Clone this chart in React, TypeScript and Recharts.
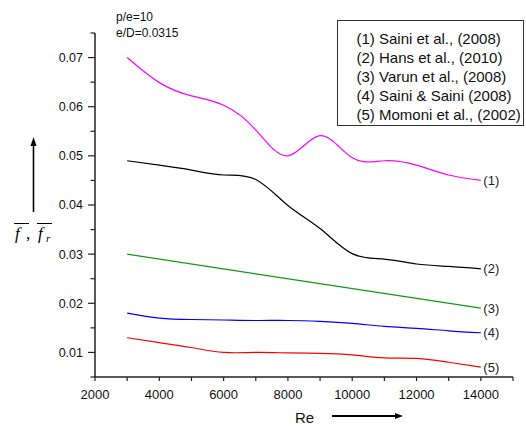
import { LineChart, Line, XAxis, YAxis, Legend } from "recharts";

const RE = [3000, 4000, 5000, 6000, 7000, 8000, 9000, 10000, 11000, 12000, 13000, 14000];
const SAINI_2008 = [0.07, 0.0649, 0.0622, 0.0603, 0.0553, 0.05, 0.0541, 0.0496, 0.049, 0.0481, 0.0461, 0.045];
const HANS_2010 = [0.049, 0.0481, 0.0471, 0.0461, 0.0452, 0.0399, 0.0352, 0.0301, 0.029, 0.028, 0.0275, 0.027];
const VARUN_RE = [3000, 14000];
const VARUN_2008 = [0.03, 0.019];
const SAINI_SAINI_2008 = [0.018, 0.017, 0.0167, 0.0166, 0.0165, 0.0165, 0.0163, 0.0159, 0.0153, 0.0149, 0.0144, 0.014];
const MOMONI_2002 = [0.013, 0.012, 0.011, 0.01, 0.01, 0.0099, 0.0098, 0.0095, 0.0089, 0.0088, 0.008, 0.007];

const X_TICKS = [2000, 3000, 4000, 5000, 6000, 7000, 8000, 9000, 10000, 11000, 12000, 13000, 14000, 15000];
const X_LABELED = [2000, 4000, 6000, 8000, 10000, 12000, 14000];
const Y_TICKS = [0.005, 0.01, 0.015, 0.02, 0.025, 0.03, 0.035, 0.04, 0.045, 0.05, 0.055, 0.06, 0.065, 0.07, 0.075];
const Y_LABELED = [0.01, 0.02, 0.03, 0.04, 0.05, 0.06, 0.07];

const LEGEND_NAMES = [
  "(1) Saini et al., (2008)",
  "(2) Hans et al., (2010)",
  "(3) Varun et al., (2008)",
  "(4) Saini & Saini (2008)",
  "(5) Momoni et al., (2002)",
];
const END_TAGS = ["(1)", "(2)", "(3)", "(4)", "(5)"];

const toPoints = (xs: number[], ys: number[]) => xs.map((re, i) => ({ re, f: ys[i] }));

const SERIES = [
  { key: "s1", data: toPoints(RE, SAINI_2008), color: "#ff00ff" },
  { key: "s2", data: toPoints(RE, HANS_2010), color: "#000000" },
  { key: "s3", data: toPoints(VARUN_RE, VARUN_2008), color: "#119911" },
  { key: "s4", data: toPoints(RE, SAINI_SAINI_2008), color: "#0000ff" },
  { key: "s5", data: toPoints(RE, MOMONI_2002), color: "#ff0000" },
];

const FONT = "'Liberation Sans', Arial, sans-serif";
const AXIS = "#222";

const XTick = ({ x, y, payload }: any) => {
  const v = payload.value;
  const labeled = X_LABELED.includes(v);
  return (
    <g>
      <line x1={x} x2={x} y1={y} y2={y + 4} stroke={AXIS} strokeWidth={1.2} />
      {labeled && (
        <text x={x} y={y + 22} textAnchor="middle" fontSize={13} fontFamily={FONT} fill="#111">
          {v}
        </text>
      )}
    </g>
  );
};

const YTick = ({ x, y, payload }: any) => {
  const v = payload.value;
  const labeled = Y_LABELED.some((l) => Math.abs(l - v) < 1e-9);
  return (
    <g>
      <line x1={x} x2={x - (labeled ? 7 : 4.5)} y1={y} y2={y} stroke={AXIS} strokeWidth={1.2} />
      {labeled && (
        <text x={x - 12} y={y} dy="0.35em" textAnchor="end" fontSize={12.5} fontFamily={FONT} fill="#111">
          {v.toFixed(2)}
        </text>
      )}
    </g>
  );
};

const YLabel = () => (
  <g>
    <line x1={33.5} x2={33.5} y1={212} y2={144} stroke="#000" strokeWidth={1.6} />
    <polygon points="33.5,137 30.5,146 36.5,146" fill="#000" />
    <line x1={14} x2={29} y1={223.5} y2={223.5} stroke="#000" strokeWidth={1} />
    <line x1={37} x2={52} y1={223.5} y2={223.5} stroke="#000" strokeWidth={1} />
    <text y={239} fontFamily="'Liberation Serif', 'DejaVu Serif', serif" fontStyle="italic" fontSize={17} fill="#000">
      <tspan x={15}>f</tspan>
      <tspan x={26} fontStyle="normal">,</tspan>
      <tspan x={38}>f</tspan>
      <tspan x={46} dy={3} fontSize={11}>r</tspan>
    </text>
    <text x={116} y={20.5} fontSize={12} fontFamily={FONT} fill="#111">p/e=10</text>
    <text x={116} y={36.5} fontSize={12} fontFamily={FONT} fill="#111">e/D=0.0315</text>
  </g>
);

const XLabel = () => (
  <g>
    <text x={295} y={422.5} fontSize={15} fontFamily={FONT} fill="#111">Re</text>
    <line x1={332} x2={396} y1={416} y2={416} stroke="#000" strokeWidth={2} />
    <polygon points="403,416 395,413 395,419" fill="#000" />
  </g>
);

const endLabel = (tag: string, last: number) => (props: any) => {
  const { x, y, index } = props;
  if (index !== last) return null;
  return (
    <text x={x + 2.5} y={y} dy="0.35em" fontSize={13} fontFamily={FONT} fill="#222">
      {tag}
    </text>
  );
};

const LegendBox = () => (
  <div
    style={{
      border: "1px solid #333",
      boxSizing: "border-box",
      width: 187,
      padding: "9px 0 0 18.5px",
      fontFamily: FONT,
      fontSize: 15,
      lineHeight: "18.9px",
      color: "#111",
      background: "#fff",
      whiteSpace: "nowrap",
    }}
  >
    {LEGEND_NAMES.map((n) => (
      <div key={n}>{n}</div>
    ))}
  </div>
);

export default function App() {
  return (
    <div style={{ position: "absolute", left: 0, top: 0, width: 526, height: 426, background: "#fff" }}>
      <LineChart width={526} height={426} margin={{ top: 33, right: 13, bottom: 0, left: 0 }}>
        <XAxis
          type="number"
          dataKey="re"
          domain={[2000, 15000]}
          ticks={X_TICKS}
          interval={0}
          height={49}
          tickSize={0}
          tickMargin={0}
          tickLine={false}
          axisLine={{ stroke: AXIS, strokeWidth: 1.5 }}
          tick={<XTick />}
          label={<XLabel />}
          allowDataOverflow
        />
        <YAxis
          type="number"
          dataKey="f"
          domain={[0.005, 0.075]}
          ticks={Y_TICKS}
          interval={0}
          width={95}
          tickSize={0}
          tickMargin={0}
          tickLine={false}
          axisLine={{ stroke: AXIS, strokeWidth: 1.5 }}
          tick={<YTick />}
          label={<YLabel />}
          allowDataOverflow
        />
        <Legend
          layout="vertical"
          align="center"
          verticalAlign="middle"
          wrapperStyle={{ left: 337, top: 20, width: 187 }}
          content={<LegendBox />}
        />
        {SERIES.map((s, i) => (
          <Line
            key={s.key}
            data={s.data}
            dataKey="f"
            type="natural"
            stroke={s.color}
            strokeWidth={1.2}
            dot={false}
            activeDot={false}
            isAnimationActive={false}
            label={endLabel(END_TAGS[i], s.data.length - 1)}
          />
        ))}
      </LineChart>
    </div>
  );
}
